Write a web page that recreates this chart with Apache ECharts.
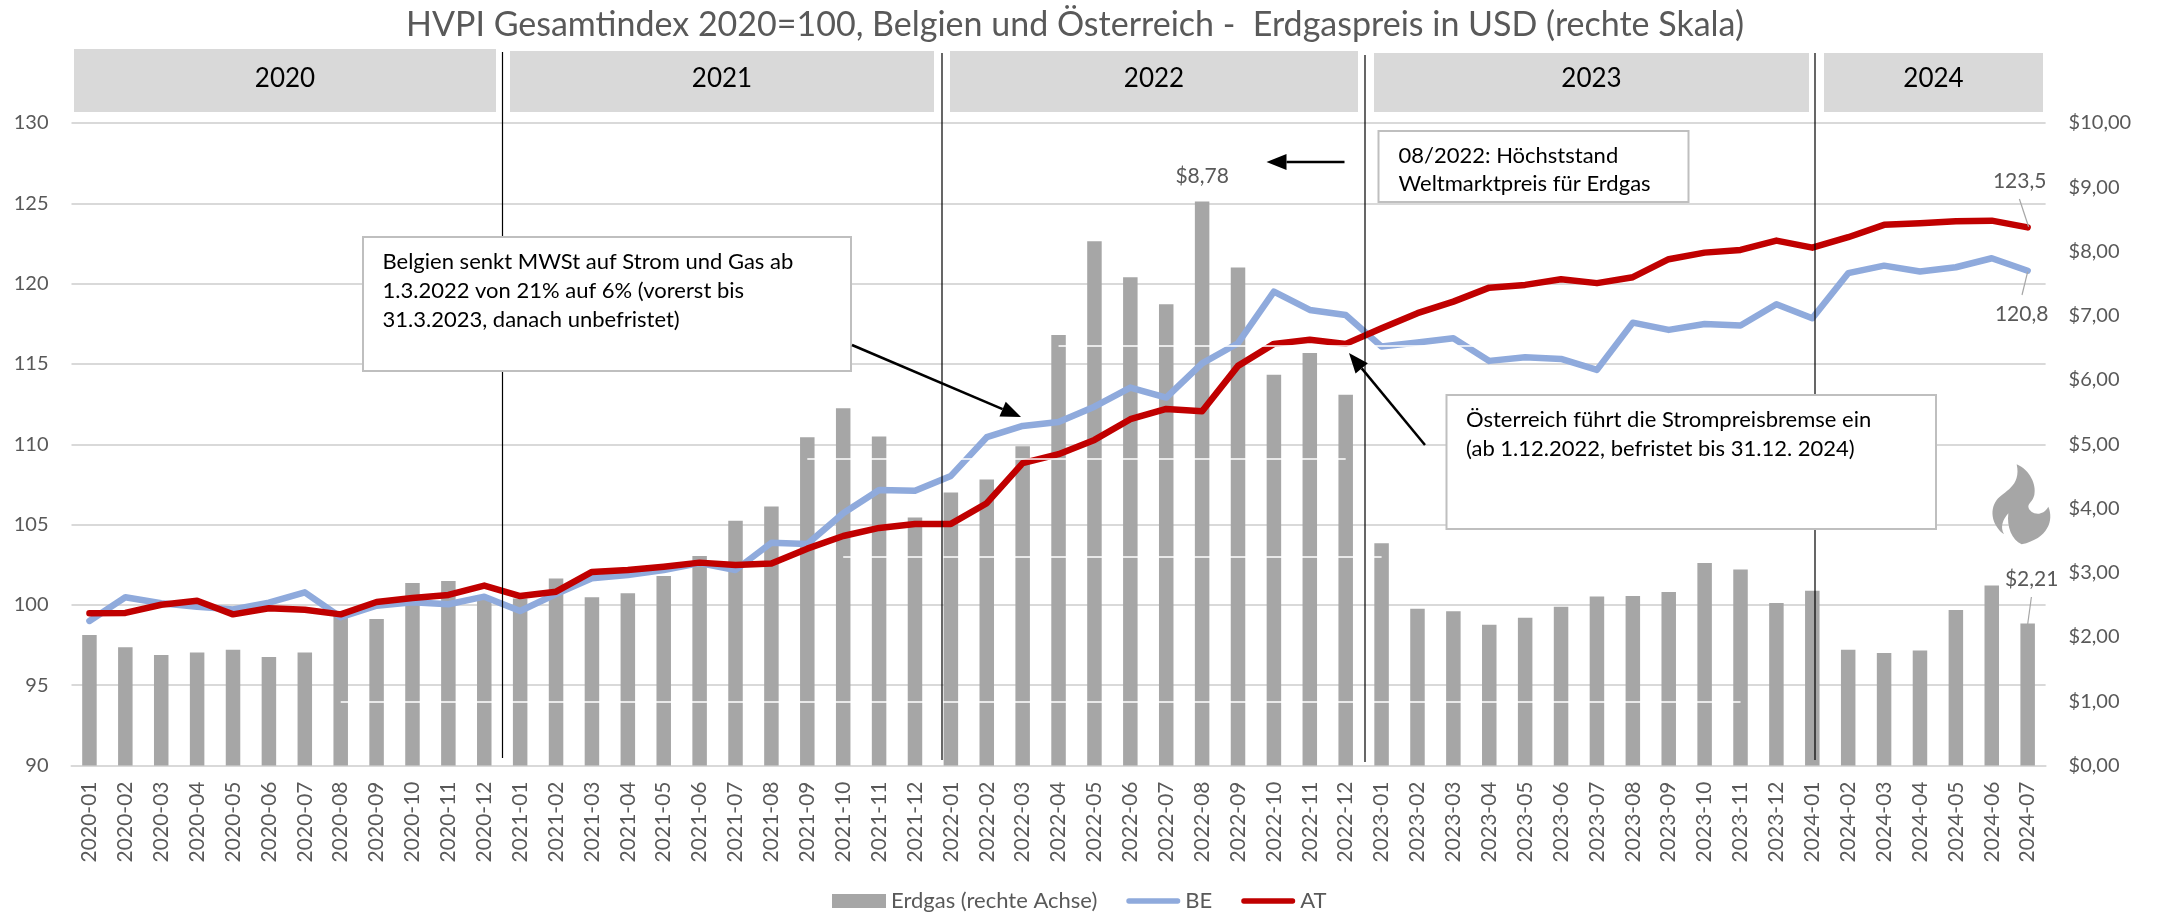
<!DOCTYPE html>
<html><head><meta charset="utf-8">
<style>html,body{margin:0;padding:0;background:#fff}#c{width:2159px;height:913px}</style>
<script src="https://cdn.jsdelivr.net/npm/echarts@6/dist/echarts.min.js"></script>
</head><body><div id="c"></div>
<script>
const months = ['2020-01','2020-02','2020-03','2020-04','2020-05','2020-06','2020-07','2020-08','2020-09','2020-10','2020-11','2020-12',
'2021-01','2021-02','2021-03','2021-04','2021-05','2021-06','2021-07','2021-08','2021-09','2021-10','2021-11','2021-12',
'2022-01','2022-02','2022-03','2022-04','2022-05','2022-06','2022-07','2022-08','2022-09','2022-10','2022-11','2022-12',
'2023-01','2023-02','2023-03','2023-04','2023-05','2023-06','2023-07','2023-08','2023-09','2023-10','2023-11','2023-12',
'2024-01','2024-02','2024-03','2024-04','2024-05','2024-06','2024-07'];
const erdgas = [2.03,1.84,1.72,1.76,1.80,1.69,1.76,2.35,2.28,2.84,2.87,2.59,
2.60,2.91,2.62,2.68,2.95,3.26,3.81,4.03,5.11,5.56,5.12,3.86,
4.25,4.45,4.97,6.70,8.16,7.60,7.18,8.78,7.75,6.08,6.42,5.77,
3.46,2.44,2.40,2.19,2.30,2.47,2.63,2.64,2.70,3.15,3.05,2.53,
2.72,1.80,1.75,1.79,2.42,2.80,2.21];
const be = [99.0,100.47,100.1,99.89,99.72,100.14,100.78,99.23,99.95,100.16,100.04,100.51,
99.62,100.68,101.66,101.86,102.17,102.6,102.17,103.87,103.79,105.7,107.15,107.11,
108.03,110.44,111.14,111.39,112.34,113.53,112.9,115.04,116.29,119.5,118.36,118.05,
116.08,116.33,116.6,115.19,115.42,115.31,114.63,117.57,117.12,117.49,117.39,118.72,
117.85,120.65,121.12,120.75,121.02,121.58,120.8];
const at = [99.48,99.5,100.01,100.26,99.41,99.79,99.7,99.41,100.18,100.43,100.62,101.2,
100.55,100.82,102.05,102.17,102.38,102.63,102.48,102.57,103.5,104.29,104.79,105.04,
105.04,106.33,108.82,109.38,110.27,111.56,112.2,112.06,114.88,116.25,116.5,116.25,
117.22,118.16,118.88,119.75,119.92,120.27,120.03,120.4,121.52,121.93,122.1,122.68,
122.24,122.89,123.66,123.76,123.89,123.92,123.5];
const years = ['2020','2021','2022','2023','2024'];
const titleText = 'HVPI Gesamtindex 2020=100, Belgien und Österreich -  Erdgaspreis in USD (rechte Skala)';
const noteBE = ['Belgien senkt MWSt auf Strom und Gas ab','1.3.2022 von 21% auf 6% (vorerst bis','31.3.2023, danach unbefristet)'];
const notePeak = ['08/2022: Höchststand','Weltmarktpreis für Erdgas'];
const noteAT = ['Österreich führt die Strompreisbremse ein','(ab 1.12.2022, befristet bis 31.12. 2024)'];
// thin white hairlines crossing the bars: [right-axis value, first month, last month]
const strips = [[1.0,'2020-08','2023-11'],[3.25,'2021-10','2023-01'],[4.77,'2021-09','2022-12'],[6.54,'2022-04','2023-07']];

echarts.graphic.registerShape('flame',echarts.graphic.extendShape({
  shape:{},
  buildPath(c){
    c.moveTo(110,28);
    c.bezierCurveTo(150,45,170,90,163,120);
    c.bezierCurveTo(158,140,145,145,145,155);
    c.bezierCurveTo(148,175,185,190,205,155);
    c.bezierCurveTo(222,195,205,250,125,268);
    c.bezierCurveTo(95,255,80,215,85,175);
    c.bezierCurveTo(68,195,60,215,72,238);
    c.bezierCurveTo(40,215,25,170,50,135);
    c.bezierCurveTo(70,110,125,95,110,28);
    c.closePath();
  }
}));

const GREY='#595959', FONT='Lato';
const yearBoxes=[[74,49,422,63],[510,51,424,61],[950,51,408,61],[1374,53,435,59],[1824,53,219,59]];
const vlines=[[502.5,52,758],[942,53,760],[1365,55,762],[1815,53,760]];
const g=[];
yearBoxes.forEach((b,i)=>{
  g.push({type:'rect',z:1,shape:{x:b[0],y:b[1],width:b[2],height:b[3]},style:{fill:'#d9d9d9'}});
  g.push({type:'text',z:2,x:b[0]+b[2]/2,y:79,style:{text:years[i],fill:'#000',font:'26px '+FONT,textAlign:'center',textVerticalAlign:'middle'}});
});
vlines.forEach(l=>g.push({type:'line',z:10,shape:{x1:l[0],y1:l[1],x2:l[0],y2:l[2]},style:{stroke:'#000',lineWidth:1.2}}));
function box(x,y,w,h,tx,lines,ys){
  g.push({type:'rect',z:20,shape:{x:x,y:y,width:w,height:h},style:{fill:'#fff',stroke:'#bfbfbf',lineWidth:2}});
  lines.forEach((t,i)=>g.push({type:'text',z:21,x:tx,y:ys[i],style:{text:t,fill:'#000',font:'22px '+FONT,textAlign:'left',textVerticalAlign:'middle'}}));
}
box(363,237,488,134,382.5,noteBE,[262,291,320]);
box(1378.5,131,310,71,1398.5,notePeak,[156,184]);
box(1446.5,395,489.5,134,1466,noteAT,[420,449]);
function arrow(x1,y1,x2,y2){
  const a=Math.atan2(y2-y1,x2-x1),L=20,W=8;
  const bx=x2-L*Math.cos(a),by=y2-L*Math.sin(a);
  g.push({type:'line',z:22,shape:{x1:x1,y1:y1,x2:bx,y2:by},style:{stroke:'#000',lineWidth:2.5}});
  g.push({type:'polygon',z:22,shape:{points:[[x2,y2],[bx-W*Math.sin(a),by+W*Math.cos(a)],[bx+W*Math.sin(a),by-W*Math.cos(a)]]},style:{fill:'#000'}});
}
arrow(852,345,1021,417);
arrow(1344.5,162,1266.5,162);
arrow(1425,445,1349,353);
[[2019.4,199,2028.6,226.7],[2027.7,271.7,2022,295],[2031.4,597,2027.7,624]].forEach(l=>
  g.push({type:'line',z:12,shape:{x1:l[0],y1:l[1],x2:l[2],y2:l[3]},style:{stroke:'#a6a6a6',lineWidth:1.2}}));
g.push({type:'flame',z:15,x:1980,y:455,scaleX:1/3,scaleY:1/3,style:{fill:'#a6a6a6'}});

const lastI=months.length-1, peakI=months.indexOf('2022-08');
function labelled(vals,idx,text,offset){
  return vals.map((v,i)=>i===idx?{value:v,label:{show:true,position:'top',formatter:text,offset:offset,color:GREY,fontFamily:FONT,fontSize:21}}:v);
}
const endDot=(v,p)=>p.dataIndex===lastI?5:0;
const lineIcon='path://M0 0L0 0Z M54 14L54 14Z M2 4.3H52A2.7 2.7 0 0 1 52 9.7H2A2.7 2.7 0 0 1 2 4.3Z';
const chart=echarts.init(document.getElementById('c'));
chart.setOption({
  animation:false,
  backgroundColor:'#fff',
  title:{text:titleText,left:1070,top:3,textAlign:'center',textStyle:{color:GREY,fontFamily:FONT,fontSize:34,fontWeight:'normal'}},
  legend:{left:827,top:885,itemWidth:54,itemHeight:14,itemGap:29,textStyle:{color:GREY,fontFamily:FONT,fontSize:22},
    data:[{name:'Erdgas (rechte Achse)',icon:'rect'},{name:'BE',icon:lineIcon},{name:'AT',icon:lineIcon}]},
  grid:{left:71.5,right:113.4,top:123,bottom:147.5,containLabel:false},
  xAxis:{type:'category',data:months,axisTick:{show:false},axisLine:{show:true,lineStyle:{color:'#d9d9d9',width:2}},
    axisLabel:{rotate:90,interval:0,margin:16,color:GREY,fontFamily:FONT,fontSize:21}},
  yAxis:[
    {type:'value',min:90,max:130,interval:5,axisLine:{show:false},axisTick:{show:false},
     splitLine:{lineStyle:{color:'#d9d9d9',width:2}},axisLabel:{margin:23,color:GREY,fontFamily:FONT,fontSize:20}},
    {type:'value',min:0,max:10,interval:1,position:'right',axisLine:{show:false},axisTick:{show:false},splitLine:{show:false},
     axisLabel:{margin:23,color:GREY,fontFamily:FONT,fontSize:20,align:'left',formatter:v=>'$'+v.toFixed(2).replace('.',',')}}
  ],
  series:[
    {name:'Erdgas (rechte Achse)',type:'bar',yAxisIndex:1,barWidth:14.5,
     itemStyle:{color:'#a6a6a6'},
     data:labelled(labelled(erdgas,peakI,'$8,78',[0,-10]),lastI,'$2,21',[4,-29]),
     markLine:{silent:true,symbol:'none',z:5,label:{show:false},lineStyle:{color:'#fff',width:1.5,type:'solid'},
       data:strips.map(s=>[{coord:[s[1],s[0]]},{coord:[s[2],s[0]]}])}},
    {name:'BE',type:'line',symbol:'circle',symbolSize:endDot,showAllSymbol:true,lineStyle:{color:'#8faadc',width:6.5,cap:'round',join:'round'},itemStyle:{color:'#8faadc'},
     data:labelled(be,lastI,'120,8',[-6,61]),z:3},
    {name:'AT',type:'line',symbol:'circle',symbolSize:endDot,showAllSymbol:true,lineStyle:{color:'#c00000',width:6.5,cap:'round',join:'round'},itemStyle:{color:'#c00000'},
     data:labelled(at,lastI,'123,5',[-8,-28]),z:4}
  ],
  graphic:{elements:g}
});
</script></body></html>
